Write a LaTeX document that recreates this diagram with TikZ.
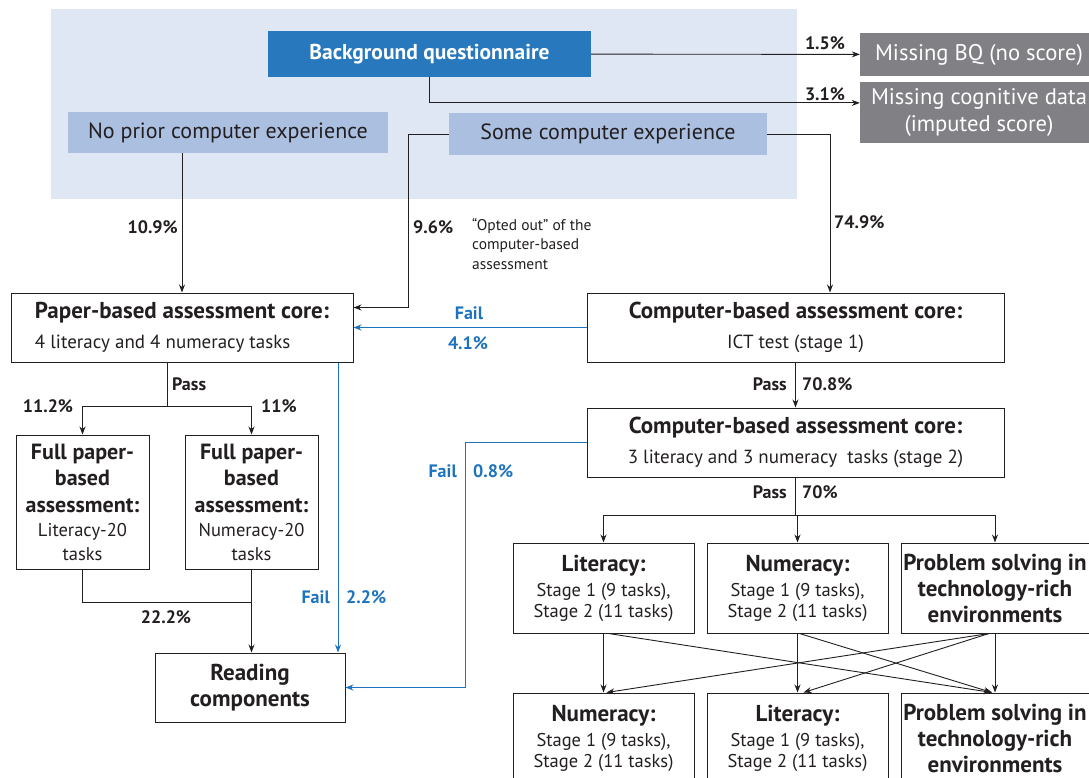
\documentclass[tikz,border=0pt]{standalone}
\usepackage{fontspec}
\setmainfont{PT Sans}
\usetikzlibrary{positioning,arrows.meta}

\definecolor{fondbleu}{RGB}{224,231,244}
\definecolor{bleuBQ}{RGB}{40,120,190}
\definecolor{bleuclair}{RGB}{171,191,225}
\definecolor{grisbox}{RGB}{128,128,133}
\definecolor{bleuechec}{RGB}{30,115,190}
\definecolor{texte}{RGB}{35,31,32}

\newcommand\sous{\fontsize{19}{23}\selectfont}
\newcommand\petit{\fontsize{18.5}{22}\selectfont\mdseries}

\tikzset{
  boite/.style={draw=texte, line width=1pt, align=center, inner sep=1pt, text=texte},
  noyau/.style={boite, minimum height=69pt, font=\fontsize{23}{30}\selectfont},
  complet/.style={boite, minimum width=133pt, minimum height=134pt, font=\fontsize{22}{26.5}\selectfont\bfseries},
  rangee/.style={boite, minimum width=181pt, minimum height=90pt, font=\fontsize{23}{25}\selectfont\bfseries},
  plein/.style={text=white, inner sep=2pt, font=\fontsize{22.6}{27}\selectfont},
  clair/.style={fill=bleuclair, text=texte, minimum height=41pt, font=\fontsize{22}{26}\selectfont},
  fleche/.style={-{Stealth[length=8pt,width=6pt]}, line width=0.9pt, draw=texte},
  trait/.style={line width=0.9pt, draw=texte},
  echec/.style={fleche, draw=bleuechec},
  pct/.style={font=\fontsize{18}{21}\selectfont\bfseries, text=texte, inner sep=0pt},
  pctechec/.style={pct, text=bleuechec},
}

\begin{document}
\begin{tikzpicture}[x=1pt, y=-1pt, node distance=12pt]
  \useasboundingbox (0,0) rectangle (1089,778);

  % Le fond du questionnaire
  \fill[fondbleu] (51,9) rectangle (797,199);

  % Les boites du haut
  \node[plein, fill=bleuBQ, minimum width=323pt, minimum height=46pt, font=\fontsize{21.5}{25}\selectfont\bfseries] (bq) at (429.5,54) {Background questionnaire};
  \node[plein, fill=grisbox, minimum width=238pt, minimum height=43pt] (mbq) at (979,54.5) {Missing BQ (no score)};
  \node[plein, fill=grisbox, minimum width=238pt, minimum height=61pt, align=center, below=6pt of mbq] (mcd) {Missing cognitive data\\(imputed score)};
  \node[clair, minimum width=320pt] (noprior) at (228,132.5) {No prior computer experience};
  \node[clair, minimum width=318pt, minimum height=42pt] (some) at (608,134) {Some computer experience};

  % Les evaluations
  \node[noyau, align=left, minimum width=342pt] (paper) at (182,327.5) {\bfseries Paper-based assessment core:\\\sous 4 literacy and 4 numeracy tasks};
  \node[noyau, minimum width=417pt] (cba1) at (795.5,327.5) {\bfseries Computer-based assessment core:\\\sous ICT test (stage 1)};
  \node[noyau, minimum width=417pt, below=45pt of cba1] (cba2) {\bfseries Computer-based assessment core:\\\sous 3 literacy and 3 numeracy~ tasks (stage 2)};

  \node[complet] (fpl) at (82.5,502) {Full paper-\\based\\assessment:\\[-2.5pt]\petit Literacy-20\\[-2.5pt]\petit tasks};
  \node[complet, right=35pt of fpl] (fpr) {Full paper-\\based\\assessment:\\[-2.5pt]\petit Numeracy-20\\[-2.5pt]\petit tasks};
  \node[boite, minimum width=190pt, minimum height=69pt, font=\fontsize{23}{26}\selectfont\bfseries] (read) at (250,687.5) {Reading\\components};

  \node[rangee] (lit1) at (603.5,588) {Literacy:\\\petit Stage 1 (9 tasks),\\[-4pt]\petit Stage 2 (11 tasks)};
  \node[rangee, right=of lit1] (num1) {Numeracy:\\\petit Stage 1 (9 tasks),\\[-4pt]\petit Stage 2 (11 tasks)};
  \node[rangee, minimum width=188pt, right=of num1, font=\fontsize{23}{26}\selectfont\bfseries] (ps1) {Problem solving in\\technology-rich\\environments};
  \node[rangee, below=59pt of lit1] (num2) {Numeracy:\\\petit Stage 1 (9 tasks),\\[-4pt]\petit Stage 2 (11 tasks)};
  \node[rangee, below=59pt of num1] (lit2) {Literacy:\\\petit Stage 1 (9 tasks),\\[-4pt]\petit Stage 2 (11 tasks)};
  \node[rangee, minimum width=188pt, below=59pt of ps1, font=\fontsize{23}{26}\selectfont\bfseries] (ps2) {Problem solving in\\technology-rich\\environments};

  % Les pourcentages
  \node[pct] (p15) at (825,43) {1.5\%};
  \node[pct] (p31) at (825,94) {3.1\%};
  \node[pct, anchor=east] (p109) at (178,227) {10.9\%};
  \node[pct, anchor=west] (p96) at (413,227) {9.6\%};
  \node[anchor=north west, align=left, inner sep=0pt, text=texte, font=\fontsize{15.5}{19.5}\selectfont] (optout) at (472,218) {“Opted out” of the\\computer-based\\assessment};
  \node[pct, anchor=west] (p749) at (834,222) {74.9\%};
  \node[pctechec] (fail41) at (469,313) {Fail};
  \node[pctechec] (p41) at (468,343) {4.1\%};
  \node[pct, anchor=west] (pass1) at (172,384) {Pass};
  \node[pct] (p112) at (48,406) {11.2\%};
  \node[pct] (p11) at (279,406) {11\%};
  \node[pct] (p222) at (166,617) {22.2\%};
  \node[pctechec, anchor=east] (fail22) at (330,597) {Fail};
  \node[pctechec, anchor=west] (p22) at (346,597) {2.2\%};
  \node[pctechec, anchor=east] (fail08) at (457,471) {Fail};
  \node[pctechec, anchor=west] (p08) at (473,471) {0.8\%};
  \node[pct, anchor=east] (pass2) at (787,384) {Pass};
  \node[pct, anchor=west] (p708) at (802,384) {70.8\%};
  \node[pct, anchor=east] (pass3) at (787,492) {Pass};
  \node[pct, anchor=west] (p70) at (802,492) {70\%};

  % Les fleches
  \draw[fleche] (bq) -- (mbq);
  \draw[fleche] (bq.south) |- ([yshift=10pt]mcd.west);
  \draw[fleche] (noprior.south -| paper.north) -- (paper.north);
  \draw[fleche] (some.west) -- ++(-40,0) |- ([yshift=20pt]paper.east);
  \draw[fleche] (some.east) -| ([xshift=34.5pt]cba1.north);
  \draw[echec] (cba1.west) -- (paper.east);
  \draw[trait] ([xshift=-15pt]paper.south) -- ++(0,44) coordinate (split);
  \draw[fleche] (split) -| (fpl.north);
  \draw[fleche] (split) -| (fpr.north);
  \draw[trait] (fpl.south) |- ([yshift=-33pt]fpr.south);
  \draw[fleche] (fpr.south) -- (fpr.south |- read.north);
  \draw[echec] ([xshift=156pt]paper.south) -- ([xshift=88pt]read.north);
  \draw[echec] (cba2.west) -- ++(-121,0) |- (read.east);
  \draw[fleche] (cba1) -- (cba2);
  \draw[trait] (cba2.south) -- ++(0,38) coordinate (split2);
  \draw[fleche] (split2) -| (lit1.north);
  \draw[fleche] (split2) -| (num1.north);
  \draw[fleche] (split2) -| (ps1.north);
  \draw[fleche] (lit1.south) -- (num2.north);
  \draw[fleche] ([xshift=5pt]lit1.south) -- ([xshift=-3pt]ps2.north);
  \draw[fleche] (num1.south) -- (lit2.north);
  \draw[fleche] ([xshift=2pt]num1.south) -- ([xshift=-3pt]ps2.north);
  \draw[fleche] ([xshift=-6pt]ps1.south) -- ([xshift=3pt]num2.north);
  \draw[fleche] ([xshift=-6pt]ps1.south) -- ([xshift=6pt]lit2.north);
  \draw[fleche] (ps1.south) -- (ps2.north);
\end{tikzpicture}
\end{document}
